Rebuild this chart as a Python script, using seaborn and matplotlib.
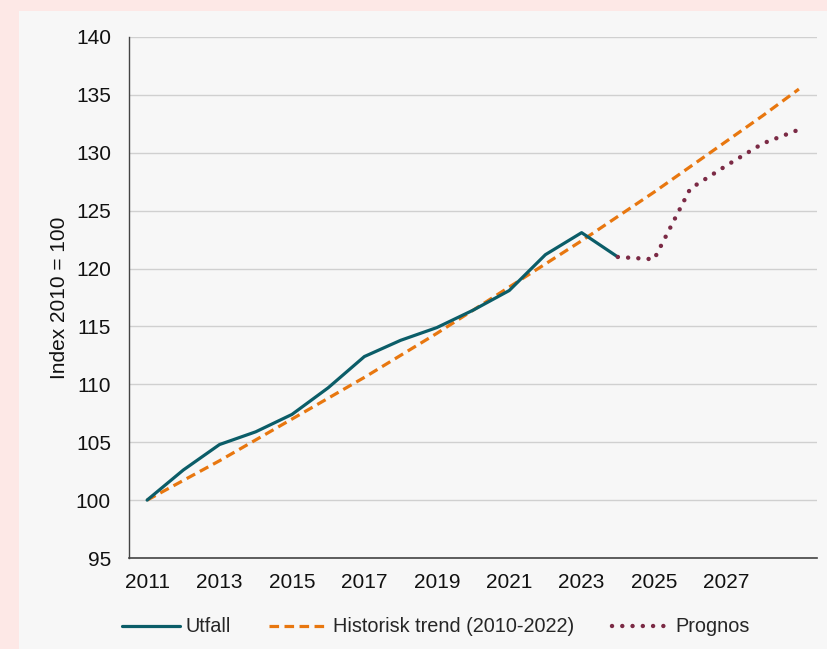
import matplotlib.pyplot as plt
import numpy as np
import pandas as pd
import seaborn as sns
from matplotlib.patches import Rectangle

# data
years_utfall = [2011, 2012, 2013, 2014, 2015, 2016, 2017, 2018, 2019,
                2020, 2021, 2022, 2023, 2024]
utfall = [100.0, 102.6, 104.8, 105.9, 107.4, 109.7, 112.4, 113.8, 114.9,
          116.4, 118.1, 121.2, 123.1, 121.0]

years_trend = list(range(2011, 2030))
trend = [100.0, 101.7, 103.4, 105.2, 107.0, 108.8, 110.6, 112.5, 114.4,
         116.4, 118.4, 120.4, 122.4, 124.5, 126.6, 128.8, 131.0, 133.2, 135.5]

years_prognos = [2024, 2025, 2026, 2027, 2028, 2029]
prognos = [121.0, 120.8, 126.9, 128.9, 130.8, 132.0]

xtick_labels = [2011, 2013, 2015, 2017, 2019, 2021, 2023, 2025, 2027]

sns.set_style('white')
plt.rcParams['font.family'] = ['Liberation Sans', 'DejaVu Sans']

pink = '#fde8e6'
panel = '#f7f7f7'

fig = plt.figure(figsize=(8.28, 6.49), dpi=100, facecolor=pink)
fig.patches.append(Rectangle((19 / 828, 0), 1, 1 - 11 / 649, transform=fig.transFigure,
                             facecolor=panel, edgecolor='none', zorder=-10))
ax = fig.add_axes([129 / 828, 1 - 558 / 649, (817 - 129) / 828, (558 - 37) / 649])
ax.set_facecolor(panel)

df_u = pd.DataFrame({'year': years_utfall, 'value': utfall})
df_t = pd.DataFrame({'year': years_trend, 'value': trend})
df_p = pd.DataFrame({'year': years_prognos, 'value': prognos})

sns.lineplot(data=df_u, x='year', y='value', ax=ax, color='#0b5d68', lw=2.3,
             label='Utfall', zorder=4)
sns.lineplot(data=df_t, x='year', y='value', ax=ax, color='#e8770f', lw=2.3,
             linestyle=(0, (3.0, 1.7)), label='Historisk trend (2010-2022)', zorder=3)
sns.lineplot(data=df_p, x='year', y='value', ax=ax, color='#7b2a45', lw=3.2,
             linestyle=(0, (0.01, 2.3)), dash_capstyle='round',
             label='Prognos', zorder=5)

ax.set_xlim(2010.5, 2029.5)
ax.set_ylim(95, 140)
ax.set_yticks(np.arange(95, 141, 5))
ax.set_xticks(xtick_labels)
ax.set_xticklabels([str(y) for y in xtick_labels])
ax.tick_params(axis='both', length=0, labelsize=15, colors='#111111')
ax.tick_params(axis='x', pad=11)
ax.tick_params(axis='y', pad=13)
ax.grid(axis='y', color='#d0d0d0', lw=1)
ax.set_axisbelow(True)

for s in ['top', 'right']:
    ax.spines[s].set_visible(False)
ax.spines['left'].set_color('#444444')
ax.spines['bottom'].set_color('#444444')
ax.spines['left'].set_linewidth(1)
ax.spines['bottom'].set_linewidth(1.2)

ax.set_xlabel('')
ax.set_ylabel('Index 2010 = 100', fontsize=15, color='#111111', labelpad=5)

leg = fig.legend(loc='center', bbox_to_anchor=(436 / 828, 1 - 627 / 649), ncol=3,
                 frameon=False, fontsize=14.3, handlelength=2.9, columnspacing=1.9,
                 handletextpad=0.3)
ax.get_legend().remove()

fig.savefig('out.png', dpi=100, facecolor=pink)
